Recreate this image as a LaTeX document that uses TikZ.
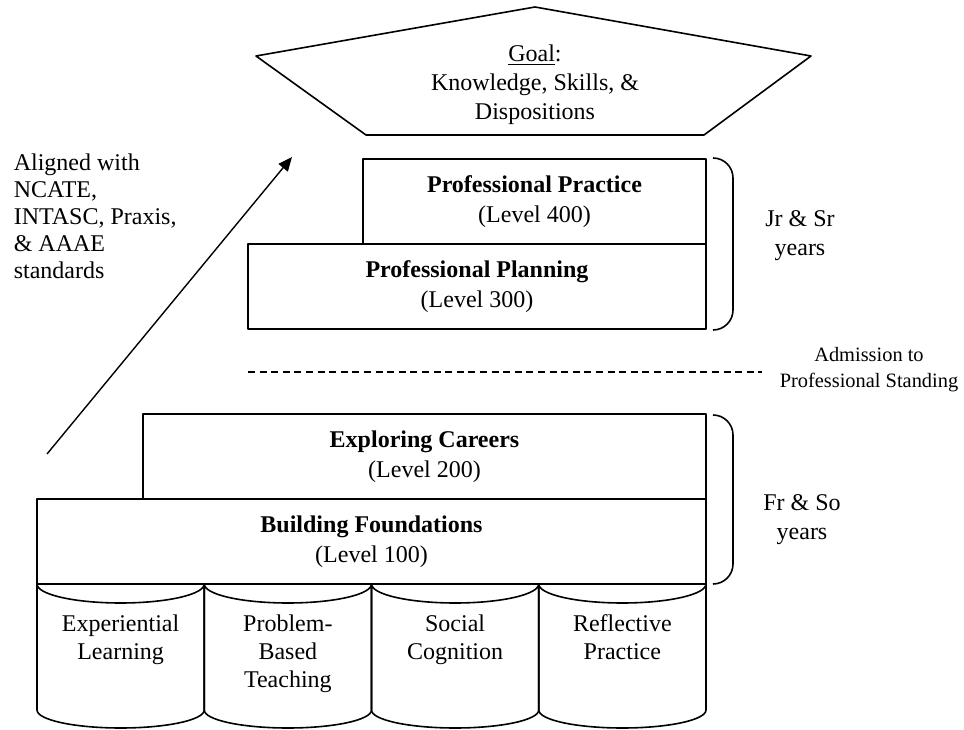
\documentclass[tikz,border=0pt]{standalone}
\usepackage{fontspec}
\setmainfont{Liberation Serif}
\usetikzlibrary{arrows.meta,positioning}

\begin{document}
\begin{tikzpicture}[x=0.5pt,y=0.5pt,line width=0.8pt,line join=round,
  every node/.style={font=\fontsize{12}{14.5}\selectfont,align=center},
  lvlbox/.style={draw,rectangle,minimum height=42.5pt,inner sep=0pt,outer sep=0pt,font=\fontsize{12}{15}\selectfont},
  sidenote/.style={inner sep=0pt},
  pillar/.style={inner sep=0pt,anchor=north,font=\fontsize{12}{14}\selectfont}]
\useasboundingbox (0,0) rectangle (964,729);

\draw (256,673) -- (535,722) -- (811,673) -- (704,594) -- (366,594) -- cycle;
\node (goal) at (535,644) {\underline{Goal}:\\Knowledge, Skills, \&\\Dispositions};

\node[lvlbox,minimum width=171.5pt] (practice) at (534.5,527.5) {\textbf{Professional Practice}\\(Level 400)};
\node[lvlbox,minimum width=229pt,anchor=north east] (planning) at (practice.south east) {\textbf{Professional Planning}\\(Level 300)};

\coordinate (dashL) at (248,357);
\coordinate (dashR) at (762,357);
\draw[dash pattern=on 3.5pt off 2.3pt] (dashL) -- (dashR);

\node[lvlbox,minimum width=281.5pt] (exploring) at (424.5,272.5) {\textbf{Exploring Careers}\\(Level 200)};
\node[lvlbox,minimum width=334.5pt,anchor=north east] (foundations) at (exploring.south east) {\textbf{Building Foundations}\\(Level 100)};

\foreach \i/\txt in {0/{Experiential\\Learning},1/{Problem-\\Based\\Teaching},2/{Social\\Cognition},3/{Reflective\\Practice}}{
  \draw ({37+167.25*\i},145) arc[start angle=180,end angle=360,x radius=41.81pt,y radius=9.5pt]
    -- ({37+167.25*(\i+1)},19) arc[start angle=0,end angle=-180,x radius=41.81pt,y radius=9pt] -- cycle;
  \node[pillar] (pillar\i) at ({37+167.25*(\i+0.5)},115) {\txt};
}

\draw[rounded corners=10pt] (713,571) -- (733,571) -- (733,399) -- (713,399);
\draw[rounded corners=10pt] (713,314) -- (733,314) -- (733,145) -- (713,145);

\node[sidenote] (upperyears) at (800,493) {Jr \& Sr\\years};
\node[sidenote] (loweryears) at (802,209) {Fr \& So\\years};
\node[sidenote,font=\fontsize{10.2}{13}\selectfont] (admit) at (869,359) {Admission to\\Professional Standing};
\node[sidenote,anchor=north west,align=left,font=\fontsize{12}{13.5}\selectfont] (aligned) at (13,576) {Aligned with\\NCATE,\\INTASC, Praxis,\\\& AAAE\\standards};

\coordinate (arrowfoot) at (47,275);
\coordinate (arrowtip) at (292,572);
\draw[line width=0.7pt,-{Triangle[length=7pt,width=6pt]}] (arrowfoot) -- (arrowtip);
\end{tikzpicture}
\end{document}
